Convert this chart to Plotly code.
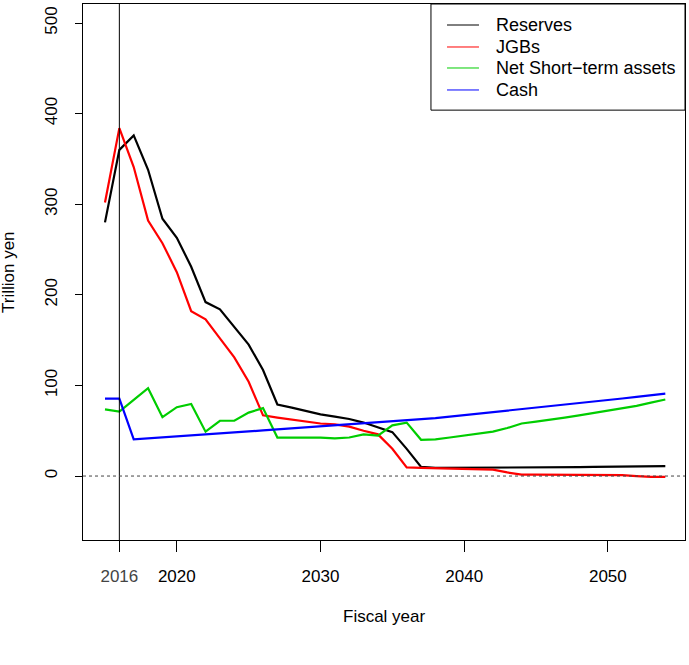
import plotly.graph_objects as go

years = list(range(2015, 2055))

reserves = [280, 360, 376, 338, 284, 263, 231, 192, 184, 165,
            145, 117, 79, 75.5, 72, 68, 65.5, 63, 59, 53.5,
            48.5, 30, 10, 9, 9, 9, 9, 9, 9, 9,
            9.2, 9.4, 9.6, 9.8, 10, 10.2, 10.4, 10.6, 10.8, 11]

jgbs = [302, 384, 341, 282, 257, 225, 182, 173, 152, 131,
        104, 67, 64.5, 62.5, 60, 58, 57, 54.5, 50, 46,
        30, 9.5, 9, 8.5, 8, 8, 7.5, 7, 4, 1.5,
        1.5, 1.5, 1.5, 1.5, 1.5, 1.5, 1, 0, -1, -1]

net_short = [73.5, 71, 84, 97, 65, 76, 79.5, 49, 61, 61,
             70, 75, 42.5, 42.5, 43, 42.5, 41.5, 42.5, 46, 44.5,
             56, 59, 40, 40.5, 42.5, 44.5, 46.5, 49, 53, 58,
             60, 62, 64.5, 67, 69.5, 72, 74.5, 77.5, 81, 84.5]

cash = [85.5, 85.5, 40.5, 41.5, 42.6, 43.7, 44.8, 45.9, 47, 48.1,
        49.2, 50.3, 51.4, 52.5, 53.6, 54.7, 55.8, 56.9, 58, 59.1,
        60.2, 61.3, 62.5, 64, 65.6, 67.2, 68.8, 70.4, 72, 73.6,
        75.2, 76.9, 78.6, 80.3, 82, 83.8, 85.6, 87.4, 89.2, 91]

series_names = ["Reserves", "JGBs", "Net Short\u2212term assets", "Cash"]
series_values = [reserves, jgbs, net_short, cash]
series_colors = ["#000000", "#FF0000", "#00CD00", "#0000FF"]

x_tick_vals = [2016, 2020, 2030, 2040, 2050]
x_tick_text = ["<span style='color:#444'>2016</span>", "2020", "2030", "2040", "2050"]
y_tick_vals = [0, 100, 200, 300, 400, 500]

FONT = "Liberation Sans, Arial, sans-serif"

fig = go.Figure()
for name, vals, col in zip(series_names, series_values, series_colors):
    fig.add_trace(go.Scatter(x=years, y=vals, mode="lines", name=name,
                             line=dict(color=col, width=2.2), showlegend=False))

shapes = [
    dict(type="line", xref="x", yref="paper", x0=2016, x1=2016, y0=0, y1=1,
         line=dict(color="black", width=1)),
    dict(type="line", xref="paper", yref="y", x0=0, x1=1, y0=0, y1=0,
         line=dict(color="#444", width=1, dash="dot")),
    # legend box
    dict(type="rect", xref="paper", yref="paper", x0=0.578, x1=1.0, y0=0.802, y1=1.0,
         line=dict(color="black", width=1), fillcolor="white", layer="above"),
]
annotations = [
    dict(text="Fiscal year", xref="paper", yref="paper", x=0.5, y=0,
         yshift=-76, showarrow=False, yanchor="middle", font=dict(size=17)),
    dict(text="Trillion yen", xref="paper", yref="paper", x=0, y=0.5,
         xshift=-75, showarrow=False, textangle=-90, xanchor="center",
         font=dict(size=17)),
]
row_y = [0.9608, 0.9198, 0.8806, 0.8396]
for name, col, ry in zip(series_names, series_colors, row_y):
    shapes.append(dict(type="line", xref="paper", yref="paper", x0=0.6047, x1=0.6578,
                       y0=ry, y1=ry, line=dict(color=col, width=1), layer="above"))
    annotations.append(dict(text=name, xref="paper", yref="paper", x=0.6822, y=ry,
                            xanchor="left", yanchor="middle", showarrow=False,
                            font=dict(size=18)))

fig.update_layout(
    width=689, height=665,
    margin=dict(l=83, r=4, t=4, b=125),
    plot_bgcolor="white", paper_bgcolor="white",
    font=dict(family=FONT, size=17, color="black"),
    showlegend=False,
    xaxis=dict(range=[2013.47, 2055.37], tickvals=x_tick_vals, ticktext=x_tick_text,
               ticks="outside", ticklen=11, tickcolor="black", tickwidth=1,
               showline=True, linecolor="black", linewidth=1, mirror=True,
               showgrid=False, zeroline=False, ticklabelstandoff=10),
    yaxis=dict(range=[-70.6, 521], tickvals=y_tick_vals, tickangle=-90,
               ticks="outside", ticklen=7, tickcolor="black", tickwidth=1,
               showline=True, linecolor="black", linewidth=1, mirror=True,
               showgrid=False, zeroline=False, ticklabelstandoff=11),
    shapes=shapes,
    annotations=annotations,
)

fig.write_html("out.html")
